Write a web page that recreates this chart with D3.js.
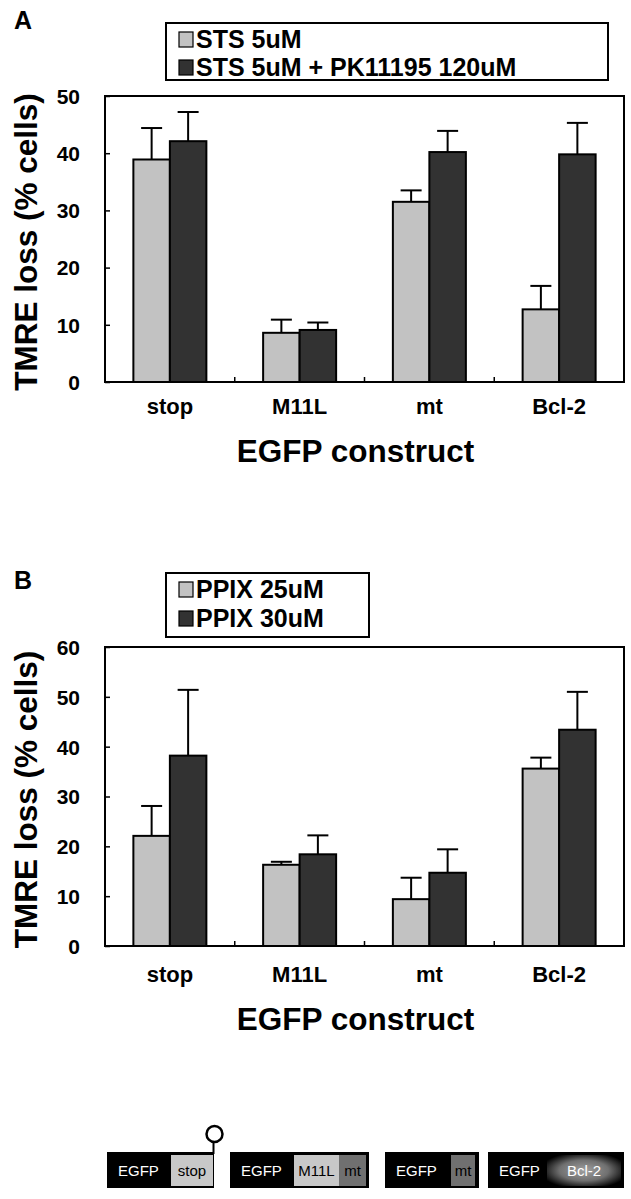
<!DOCTYPE html>
<html><head><meta charset="utf-8">
<script src="https://cdn.jsdelivr.net/npm/d3@7"></script>
<style>
html,body{margin:0;padding:0;background:#fff;}
svg{display:block;font-family:"Liberation Sans",Arial,sans-serif;}
</style></head>
<body>
<svg id="chart" width="631" height="1199"></svg>
<script>
// ---- data ----
const categories = ["stop", "M11L", "mt", "Bcl-2"];

const seriesA = ["STS 5uM", "STS 5uM + PK11195 120uM"];
const valuesA_sts = [38.9, 8.6, 31.5, 12.7];
const errorsA_sts = [5.5, 2.3, 2.0, 4.1];
const valuesA_pk = [42.1, 9.1, 40.2, 39.8];
const errorsA_pk = [5.1, 1.3, 3.7, 5.5];
const ticksA = [0, 10, 20, 30, 40, 50];

const seriesB = ["PPIX 25uM", "PPIX 30uM"];
const valuesB_25 = [22.1, 16.3, 9.4, 35.6];
const errorsB_25 = [6.0, 0.6, 4.3, 2.2];
const valuesB_30 = [38.2, 18.4, 14.7, 43.4];
const errorsB_30 = [13.2, 3.8, 4.7, 7.6];
const ticksB = [0, 10, 20, 30, 40, 50, 60];

const xTitle = "EGFP construct";
const yTitle = "TMRE loss (% cells)";

const colors = ["#c2c2c2", "#323232"];

const svg = d3.select("#chart");

function panel(cfg) {
  const g = svg.append("g");
  const x = d3.scaleBand().domain(categories).range([cfg.left, cfg.right]).padding(0);
  const groupW = 73;
  const xs = d3.scaleBand().domain([0, 1]).range([0, groupW]).padding(0);
  const y = d3.scaleLinear().domain([0, cfg.max]).range([cfg.bottom, cfg.top]);

  // panel letter
  g.append("text").attr("x", 14).attr("y", cfg.letterY).text(cfg.letter)
    .attr("font-size", 25).attr("font-weight", "bold");

  // legend
  const lg = g.append("g");
  lg.append("rect").attr("x", cfg.legX).attr("y", cfg.legY).attr("width", cfg.legW).attr("height", cfg.legH)
    .attr("fill", "#fff").attr("stroke", "#000").attr("stroke-width", 2);
  cfg.series.forEach((s, i) => {
    const by = cfg.legY + cfg.legRow0 + i * cfg.legRowGap;
    lg.append("rect").attr("x", cfg.legX + 13).attr("y", by - 16).attr("width", 14).attr("height", 15)
      .attr("fill", colors[i]).attr("stroke", "#000").attr("stroke-width", 1.2);
    lg.append("text").attr("x", cfg.legX + 30).attr("y", by).text(s)
      .attr("font-size", 25).attr("font-weight", "bold");
  });

  // bars
  const sets = cfg.data;
  sets.forEach((set, si) => {
    const bg = g.append("g");
    categories.forEach((c, ci) => {
      const x0 = x(c) + (x.bandwidth() - groupW) / 2 + xs(si);
      const v = set.values[ci], e = set.errors[ci];
      const cx = x0 + xs.bandwidth() / 2;
      bg.append("line").attr("x1", cx).attr("x2", cx).attr("y1", y(v)).attr("y2", y(v + e))
        .attr("stroke", "#000").attr("stroke-width", 2);
      bg.append("line").attr("x1", cx - 10.5).attr("x2", cx + 10.5).attr("y1", y(v + e)).attr("y2", y(v + e))
        .attr("stroke", "#000").attr("stroke-width", 2);
      bg.append("rect").attr("x", x0).attr("y", y(v)).attr("width", xs.bandwidth()).attr("height", y(0) - y(v))
        .attr("fill", colors[si]).attr("stroke", "#000").attr("stroke-width", 2);
    });
  });

  // frame
  g.append("rect").attr("x", cfg.left).attr("y", cfg.top).attr("width", cfg.right - cfg.left)
    .attr("height", cfg.bottom - cfg.top).attr("fill", "none").attr("stroke", "#000").attr("stroke-width", 2);

  // y axis
  const ya = g.append("g").attr("transform", `translate(${cfg.left},0)`)
    .call(d3.axisRight(y).tickValues(cfg.ticks).tickSize(5).tickFormat(d3.format("d")));
  ya.select(".domain").remove();
  ya.selectAll("line").attr("stroke", "#000").attr("stroke-width", 1.5);
  ya.selectAll("text").attr("x", -25).attr("text-anchor", "end").attr("dy", "0.35em")
    .attr("font-size", 21).attr("font-weight", "bold").attr("font-family", "Liberation Sans, Arial, sans-serif").attr("fill", "#000");

  // x axis
  const xa = g.append("g").attr("transform", `translate(0,${cfg.bottom})`)
    .call(d3.axisBottom(x).tickSize(0));
  xa.select(".domain").remove();
  xa.selectAll("text").attr("y", cfg.catDy).attr("dy", 0)
    .attr("font-size", 22).attr("font-weight", "bold").attr("font-family", "Liberation Sans, Arial, sans-serif").attr("fill", "#000");
  // boundary ticks
  g.selectAll(".bt").data(categories.slice(1)).enter().append("line")
    .attr("x1", d => x(d)).attr("x2", d => x(d)).attr("y1", cfg.bottom).attr("y2", cfg.bottom - 5)
    .attr("stroke", "#000").attr("stroke-width", 1.5);

  // titles
  g.append("text").attr("x", (cfg.left + cfg.right) / 2 - 9).attr("y", cfg.bottom + cfg.xTitleDy).attr("text-anchor", "middle")
    .text(xTitle).attr("font-size", 31.5).attr("font-weight", "bold");
  g.append("text").attr("transform", `translate(37,${(cfg.top + cfg.bottom) / 2 + 3}) rotate(-90)`)
    .attr("text-anchor", "middle").text(yTitle).attr("font-size", 31.5).attr("font-weight", "bold");
}

panel({
  letter: "A", letterY: 29, left: 105, right: 624, top: 96, bottom: 382, max: 50, ticks: ticksA,
  series: seriesA, legX: 166, legY: 23, legW: 442, legH: 57, legRow0: 25, legRowGap: 28,
  data: [{values: valuesA_sts, errors: errorsA_sts}, {values: valuesA_pk, errors: errorsA_pk}],
  catDy: 32, xTitleDy: 80
});
panel({
  letter: "B", letterY: 589, left: 105, right: 624, top: 647, bottom: 946, max: 60, ticks: ticksB,
  series: seriesB, legX: 166, legY: 573, legW: 203, legH: 64, legRow0: 25, legRowGap: 29,
  data: [{values: valuesB_25, errors: errorsB_25}, {values: valuesB_30, errors: errorsB_30}],
  catDy: 36, xTitleDy: 84
});

// ---- construct diagrams ----
const constructs = [
  {x: 107, w: 107, parts: [{x: 171, w: 42, label: "stop", fill: "#c8c8c8", color: "#000"}], stop: true},
  {x: 230, w: 139, parts: [{x: 294, w: 45, label: "M11L", fill: "#c8c8c8", color: "#000"}, {x: 339, w: 27, label: "mt", fill: "#707070", color: "#000"}]},
  {x: 385, w: 94, parts: [{x: 451, w: 24, label: "mt", fill: "#707070", color: "#000"}]},
  {x: 488, w: 136, parts: [{x: 547, w: 74, label: "Bcl-2", fill: "url(#bclgrad)", color: "#fff"}]}
];
const defs = svg.append("defs");
const rg = defs.append("radialGradient").attr("id", "bclgrad").attr("cx", "50%").attr("cy", "50%").attr("r", "60%");
rg.append("stop").attr("offset", "0%").attr("stop-color", "#a0a0a0");
rg.append("stop").attr("offset", "55%").attr("stop-color", "#707070");
rg.append("stop").attr("offset", "100%").attr("stop-color", "#000");

const dg = svg.append("g");
const bt = 1152, bh = 36;
constructs.forEach(c => {
  dg.append("rect").attr("x", c.x).attr("y", bt).attr("width", c.w).attr("height", bh).attr("fill", "#000");
  dg.append("text").attr("x", c.x + 11).attr("y", bt + 24).text("EGFP").attr("fill", "#fff").attr("font-size", 15);
  c.parts.forEach(p => {
    dg.append("rect").attr("x", p.x).attr("y", bt + 3).attr("width", p.w).attr("height", bh - 5).attr("fill", p.fill);
    dg.append("text").attr("x", p.x + p.w / 2).attr("y", bt + 24).attr("text-anchor", "middle")
      .text(p.label).attr("fill", p.color).attr("font-size", 15);
  });
  if (c.stop) {
    const sx = c.x + c.w - 0.5;
    dg.append("line").attr("x1", sx).attr("x2", sx).attr("y1", bt + 2).attr("y2", bt - 10)
      .attr("stroke", "#000").attr("stroke-width", 2);
    dg.append("circle").attr("cx", sx + 1).attr("cy", bt - 18).attr("r", 8)
      .attr("fill", "#fff").attr("stroke", "#000").attr("stroke-width", 2.5);
  }
});
</script>
</body></html>
